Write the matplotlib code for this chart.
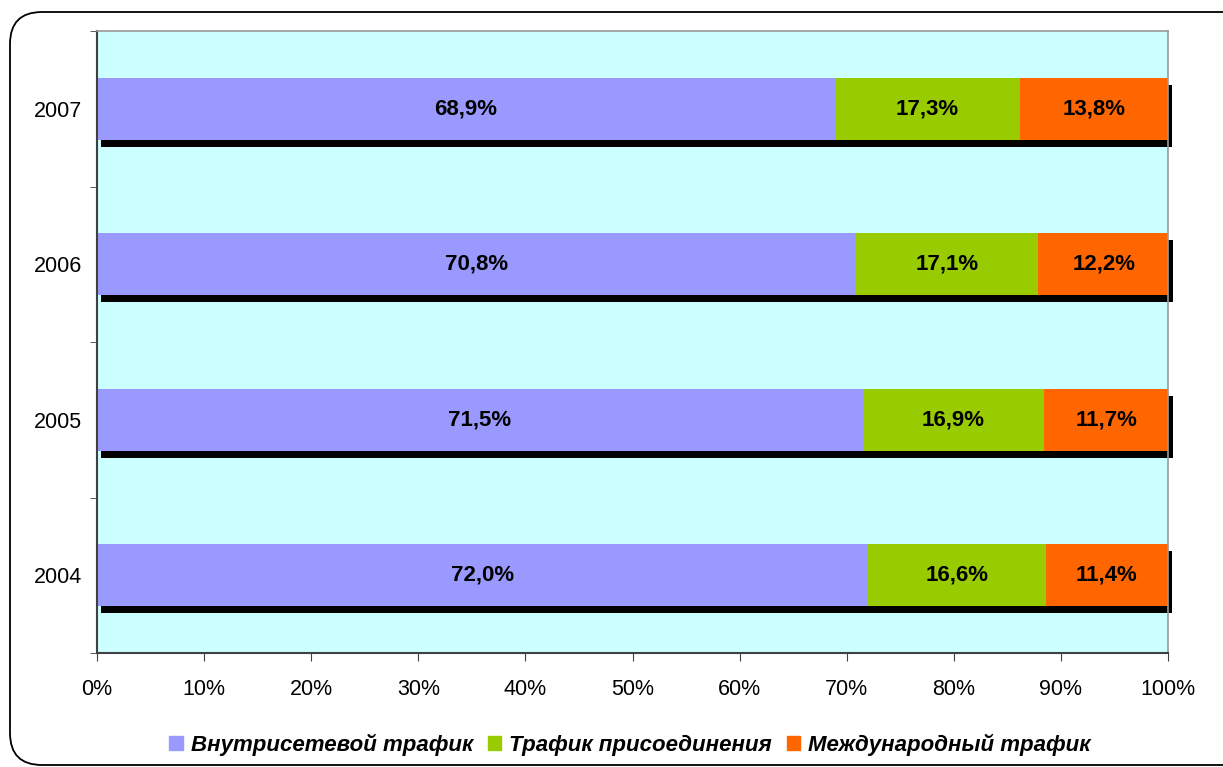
import matplotlib.pyplot as plt
from matplotlib.patches import FancyBboxPatch, Patch

plt.rcParams['font.family'] = ['Liberation Sans', 'DejaVu Sans']

years = ['2004', '2005', '2006', '2007']
internal = [72.0, 71.5, 70.8, 68.9]
interconnect = [16.6, 16.9, 17.1, 17.3]
international = [11.4, 11.7, 12.2, 13.8]
series_names = ['Внутрисетевой трафик', 'Трафик присоединения', 'Международный трафик']
colors = ['#9999FF', '#99CC00', '#FF6600']


def fmt(v):
    return ('%.1f%%' % v).replace('.', ',')


def main():
    fig = plt.figure(figsize=(12.23, 7.67), dpi=100)

    # rounded frame around the chart (in inches, right side runs off the page)
    frame = FancyBboxPatch((0.10, 0.02), 13.0, 7.53,
                           boxstyle='round,pad=0,rounding_size=0.32',
                           transform=fig.dpi_scale_trans, fill=False,
                           edgecolor='black', linewidth=1.3, zorder=0)
    fig.patches.append(frame)

    ax = fig.add_axes([97 / 1223, 114 / 767, 1071 / 1223, 622 / 767])
    ax.set_facecolor('#CCFFFF')

    y = list(range(len(years)))
    h = 0.4
    series = [internal, interconnect, international]
    totals = [a + b + c for a, b, c in zip(*series)]

    # black shadow behind each bar
    ax.barh([v - 0.045 for v in y], totals, height=h, left=0.4,
            color='black', zorder=1, clip_on=False)

    left = [0.0] * len(years)
    for vals, col in zip(series, colors):
        ax.barh(y, vals, height=h, left=left, color=col, zorder=2)
        for i, v in enumerate(vals):
            ax.text(left[i] + v / 2, y[i], fmt(v), ha='center', va='center',
                    fontsize=16, fontweight='bold', zorder=3)
        left = [l + v for l, v in zip(left, vals)]

    ax.set_xlim(0, 100)
    ax.set_ylim(-0.5, 3.5)
    ax.set_xticks(range(0, 101, 10))
    ax.set_xticklabels(['%d%%' % t for t in range(0, 101, 10)], fontsize=15.5)
    ax.set_yticks(y)
    ax.set_yticklabels(years, fontsize=15.5)
    ax.set_yticks([-0.5, 0.5, 1.5, 2.5, 3.5], minor=True)
    ax.tick_params(axis='y', which='major', length=0, pad=11)
    ax.tick_params(axis='y', which='minor', length=5, color='#404040')
    ax.tick_params(axis='x', length=6, color='#404040', pad=13)

    for s in ['left', 'bottom']:
        ax.spines[s].set_color('#404040')
        ax.spines[s].set_linewidth(1.5)
    for s in ['top', 'right']:
        ax.spines[s].set_color('#999999')
        ax.spines[s].set_linewidth(1.2)

    handles = [Patch(color=c) for c in colors]
    fig.legend(handles, series_names, loc='center',
               bbox_to_anchor=(630 / 1223, 22 / 767), ncol=3, frameon=False,
               handlelength=0.6, handleheight=0.6, handletextpad=0.35,
               columnspacing=0.68,
               prop={'size': 16, 'weight': 'bold', 'style': 'italic'})

    fig.savefig('out.png', dpi=100)


if __name__ == '__main__':
    main()
